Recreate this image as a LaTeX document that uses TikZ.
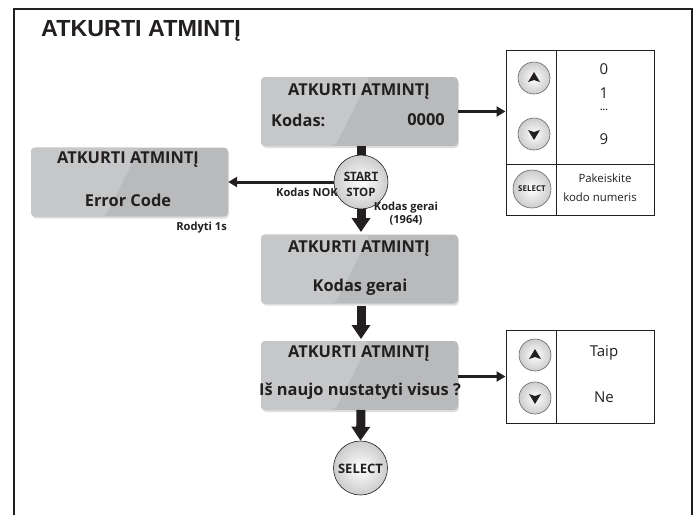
\documentclass[tikz,border=0pt]{standalone}
\usepackage{fontspec}
\setmainfont{Open Sans}
\newfontfamily\titlefont{Liberation Sans}
\usepackage{xcolor}
\usetikzlibrary{arrows.meta,shadows}
\definecolor{lcdlight}{HTML}{C6C7C9}
\definecolor{lcddark}{HTML}{B9BABC}
\definecolor{ink}{HTML}{231F20}
\tikzset{
	lcdbox/.style={minimum width=197pt,minimum height=69pt,inner sep=0pt,rounded corners=4pt,fill=lcddark,
		drop shadow={shadow xshift=1pt,shadow yshift=-2pt,opacity=0.25},
		path picture={\fill[lcdlight] ([xshift=-3pt]path picture bounding box.south west) -- ([xshift=74pt]path picture bounding box.south west) -- ([xshift=109pt]path picture bounding box.north west) -- ([xshift=-3pt]path picture bounding box.north west) -- cycle;}},
	lcdtext/.style={text=ink,font=\fontsize{16.4}{20}\selectfont\bfseries,inner sep=0pt},
	notetext/.style={text=ink,font=\fontsize{11.1}{13}\selectfont\bfseries,inner sep=0pt,align=center},
	celltext/.style={text=ink,font=\fontsize{15}{18}\selectfont,inner sep=0pt},
	smalltext/.style={text=ink,font=\fontsize{11.4}{14}\selectfont,inner sep=0pt},
	ball/.style={circle,draw=ink,line width=0.6pt,inner sep=0pt,shade,inner color=white,outer color=gray!40},
	bigball/.style={ball,minimum size=54pt},
	keyball/.style={ball,draw=gray!80!black,minimum size=32pt},
	fatarrow/.style={draw=ink,line width=9pt,-{Triangle[width=18pt,length=14pt,fill=ink]}},
	thinarrow/.style={draw=ink,line width=3pt,-{Triangle[width=10pt,length=9pt,fill=ink]}},
	tablebox/.style={draw=ink,line width=1pt,inner sep=0pt}
}
\begin{document}
\begin{tikzpicture}[x=1pt,y=-1pt]
	\useasboundingbox (0,0) rectangle (696,515);
	\coordinate (frameA) at (13.5,515);
	\coordinate (frameB) at (13.5,8.5);
	\coordinate (frameC) at (692,8.5);
	\coordinate (frameD) at (692,515);
	\draw[ink,line width=2pt] (frameA) -- (frameB) -- (frameC) -- (frameD);
	\node[anchor=west,text=ink,inner sep=0pt,font=\titlefont\fontsize{23.3}{28}\selectfont\bfseries] (title) at (41,31) {ATKURTI ATMINTĮ};
	
	\node[lcdbox] (codebox) at (359.5,111.5) {};
	\node[lcdbox] (errorbox) at (129.5,182) {};
	\node[lcdbox] (okbox) at (359.5,269) {};
	\node[lcdbox] (resetbox) at (359.5,375.5) {};
	
	\node[lcdtext] (codehead) at (359,92) {ATKURTI ATMINTĮ};
	\node[lcdtext,anchor=west] (codelabel) at (271,120) {Kodas:};
	\node[lcdtext,anchor=east] (codevalue) at (445,120) {0000};
	\node[lcdtext] (errorhead) at (128,160) {ATKURTI ATMINTĮ};
	\node[lcdtext] (errorlabel) at (128,200) {Error Code};
	\node[lcdtext] (okhead) at (359,249) {ATKURTI ATMINTĮ};
	\node[lcdtext] (oklabel) at (360,287) {Kodas gerai};
	\node[lcdtext] (resethead) at (359,354) {ATKURTI ATMINTĮ};
	\node[lcdtext] (resetlabel) at (360,391) {Iš naujo nustatyti visus ?};
	
	\node[tablebox,minimum width=148pt,minimum height=165pt] (codetable) at (580,132.5) {};
	\node[tablebox,minimum width=148pt,minimum height=93pt] (resettable) at (580,376.5) {};
	\draw[ink,line width=1pt] (codetable.north west) ++(51,0) coordinate (codetop) -- (codetop |- codetable.south);
	\draw[ink,line width=0.8pt] (codetable.south west) ++(0,-51) coordinate (codemid) -- (codemid -| codetable.east);
	\draw[ink,line width=1pt] (resettable.north west) ++(51,0) coordinate (resettop) -- (resettop |- resettable.south);
	
	\node[bigball] (selectball) at (360.5,468) {};
	\coordinate (stubtop) at (361,146);
	\coordinate (stubend) at (361,160);
	\coordinate (oktail) at (361,205);
	\coordinate (oktip) at (361,232);
	\coordinate (resettail) at (361,306);
	\coordinate (resettip) at (361,339);
	\coordinate (balltail) at (361,410);
	\draw[draw=ink,line width=9pt] (stubtop) -- (stubend);
	\draw[fatarrow] (oktail) -- (oktip);
	\draw[fatarrow] (resettail) -- (resettip);
	\draw[fatarrow] (balltail) -- (selectball.north);
	\node[bigball] (startball) at (361,182) {};
	\draw[thinarrow] (startball.west) -- (errorbox.east);
	\draw[thinarrow] (codebox.east) -- (codetable.west |- codebox.east);
	\draw[thinarrow] (resetbox.east |- resettable.west) -- (resettable.west);
	
	\node[text=ink,font=\fontsize{11.5}{13}\selectfont\bfseries,inner sep=0pt] (starttext) at (361,176) {START};
	\node[text=ink,font=\fontsize{11.5}{13}\selectfont\bfseries,inner sep=0pt] (stoptext) at (361,192) {STOP};
	\draw[ink,line width=0.8pt] (starttext.south west) -- (starttext.south east);
	\node[text=ink,font=\fontsize{13}{15}\selectfont\bfseries,inner sep=0pt] (selecttext) at (360.5,469) {SELECT};
	
	\node[notetext,anchor=east] (noklabel) at (338,192) {Kodas NOK};
	\node[notetext] (oknote) at (406,214) {Kodas gerai\\(1964)};
	\node[notetext,anchor=east] (shownote) at (227,228) {Rodyti 1s};
	
	\node[keyball] (codeup) at (534,78) {};
	\node[keyball] (codedown) at (534,134) {};
	\node[ball,draw=gray!80!black,minimum size=38pt] (codeselect) at (532,189) {};
	\node[text=ink,font=\fontsize{8}{10}\selectfont\bfseries,inner sep=0pt] (codeselecttext) at (532,189) {SELECT};
	\node[keyball] (resetup) at (535,355) {};
	\node[keyball] (resetdown) at (535,398) {};
	\foreach \n in {codeup,resetup}
		\fill[ink] (\n.center) ++(-6,4) -- ++(6,-10) -- ++(6,10) -- ++(-6,-2) -- cycle;
	\foreach \n in {codedown,resetdown}
		\fill[ink] (\n.center) ++(-6,-4) -- ++(6,10) -- ++(6,-10) -- ++(-6,2) -- cycle;
	
	\node[celltext] (digitzero) at (604,69) {0};
	\node[celltext] (digitone) at (604,93) {1};
	\node[text=ink,font=\fontsize{9}{10}\selectfont\bfseries,inner sep=0pt] (digitdots) at (604,110) {...};
	\node[celltext] (digitnine) at (604,139) {9};
	\node[smalltext] (changeone) at (605,178) {Pakeiskite};
	\node[smalltext] (changetwo) at (600,197) {kodo numeris};
	\node[celltext] (yeslabel) at (604,353) {Taip};
	\node[celltext] (nolabel) at (604,397) {Ne};
\end{tikzpicture}
\end{document}
